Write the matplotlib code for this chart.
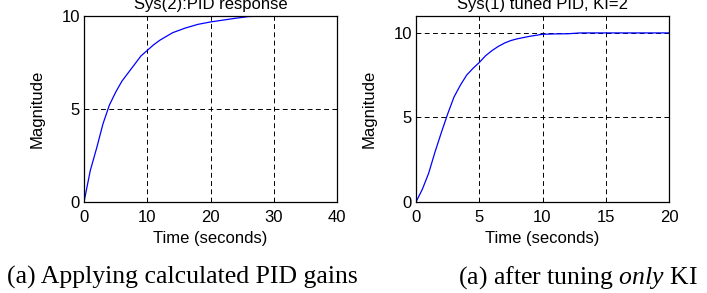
import matplotlib
matplotlib.use("Agg")
import matplotlib.pyplot as plt

plt.rcParams['font.family'] = ['Liberation Sans', 'DejaVu Sans']
plt.rcParams['mathtext.fontset'] = 'custom'
plt.rcParams['mathtext.rm'] = 'Liberation Serif'
plt.rcParams['mathtext.it'] = 'Liberation Serif:italic'

# step response
t_left = [0, 1, 2, 3, 4, 5, 6, 7, 8, 9, 10, 11, 12, 13, 14, 16, 18, 20, 22, 24, 26, 28, 40]
y_left = [0, 1.7, 2.9, 4.2, 5.2, 5.9, 6.5, 6.95, 7.4, 7.85, 8.15, 8.45, 8.7, 8.9, 9.1,
          9.35, 9.55, 9.68, 9.78, 9.88, 9.97, 10, 10]

t_right = [0, 0.5, 1, 1.5, 2, 2.5, 3, 3.5, 4, 4.5, 5, 5.5, 6, 6.5, 7, 7.5, 8, 9, 10, 11, 12, 13, 20]
y_right = [0, 0.75, 1.7, 2.95, 4.1, 5.2, 6.2, 6.9, 7.5, 7.9, 8.25, 8.65, 8.95, 9.2, 9.4,
           9.55, 9.65, 9.8, 9.92, 9.94, 9.95, 10, 10]

titles = ['Sys(2):PID response', 'Sys(1) tuned PID, KI=2']
xticks_left = [0, 10, 20, 30, 40]
xticks_right = [0, 5, 10, 15, 20]
yticks = [0, 5, 10]
captions = ['(a) Applying calculated PID gains', r'(a) after tuning $\mathit{only}$ KI']

W, H = 707, 293
fig = plt.figure(figsize=(W / 100, H / 100), dpi=100)
ax1 = fig.add_axes([84 / W, 91 / H, 253 / W, 186 / H])
ax2 = fig.add_axes([416 / W, 91 / H, 253 / W, 186 / H])

panels = [
    (ax1, t_left, y_left, xticks_left, 10, titles[0]),
    (ax2, t_right, y_right, xticks_right, 11, titles[1]),
]
for ax, t, y, xt, ytop, title in panels:
    ax.plot(t, y, color='#0000ff', lw=0.9)
    ax.set_xlim(xt[0], xt[-1])
    ax.set_ylim(0, ytop)
    ax.set_xticks(xt)
    ax.set_yticks(yticks)
    ax.grid(True, color='black', ls=(0, (5, 3.5)), lw=0.7)
    ax.tick_params(direction='in', top=True, right=True, length=3, labelsize=12,
                   width=0.7)
    ax.tick_params(axis='x', pad=6)
    ax.tick_params(axis='y', pad=3)
    for s in ax.spines.values():
        s.set_linewidth(0.9)
    ax.set_xlabel('Time (seconds)', fontsize=12, labelpad=4)
    ax.set_ylabel('Magnitude', fontsize=12, labelpad=12)
    ax.set_title(title, fontsize=12, pad=5)

fig.text(7 / W, 1 - 284 / H, captions[0], family='Liberation Serif', fontsize=18.5,
         va='baseline', ha='left')
fig.text(458 / W, 1 - 284 / H, captions[1], family='Liberation Serif', fontsize=18.5,
         va='baseline', ha='left')

fig.savefig('out.png', dpi=100)
